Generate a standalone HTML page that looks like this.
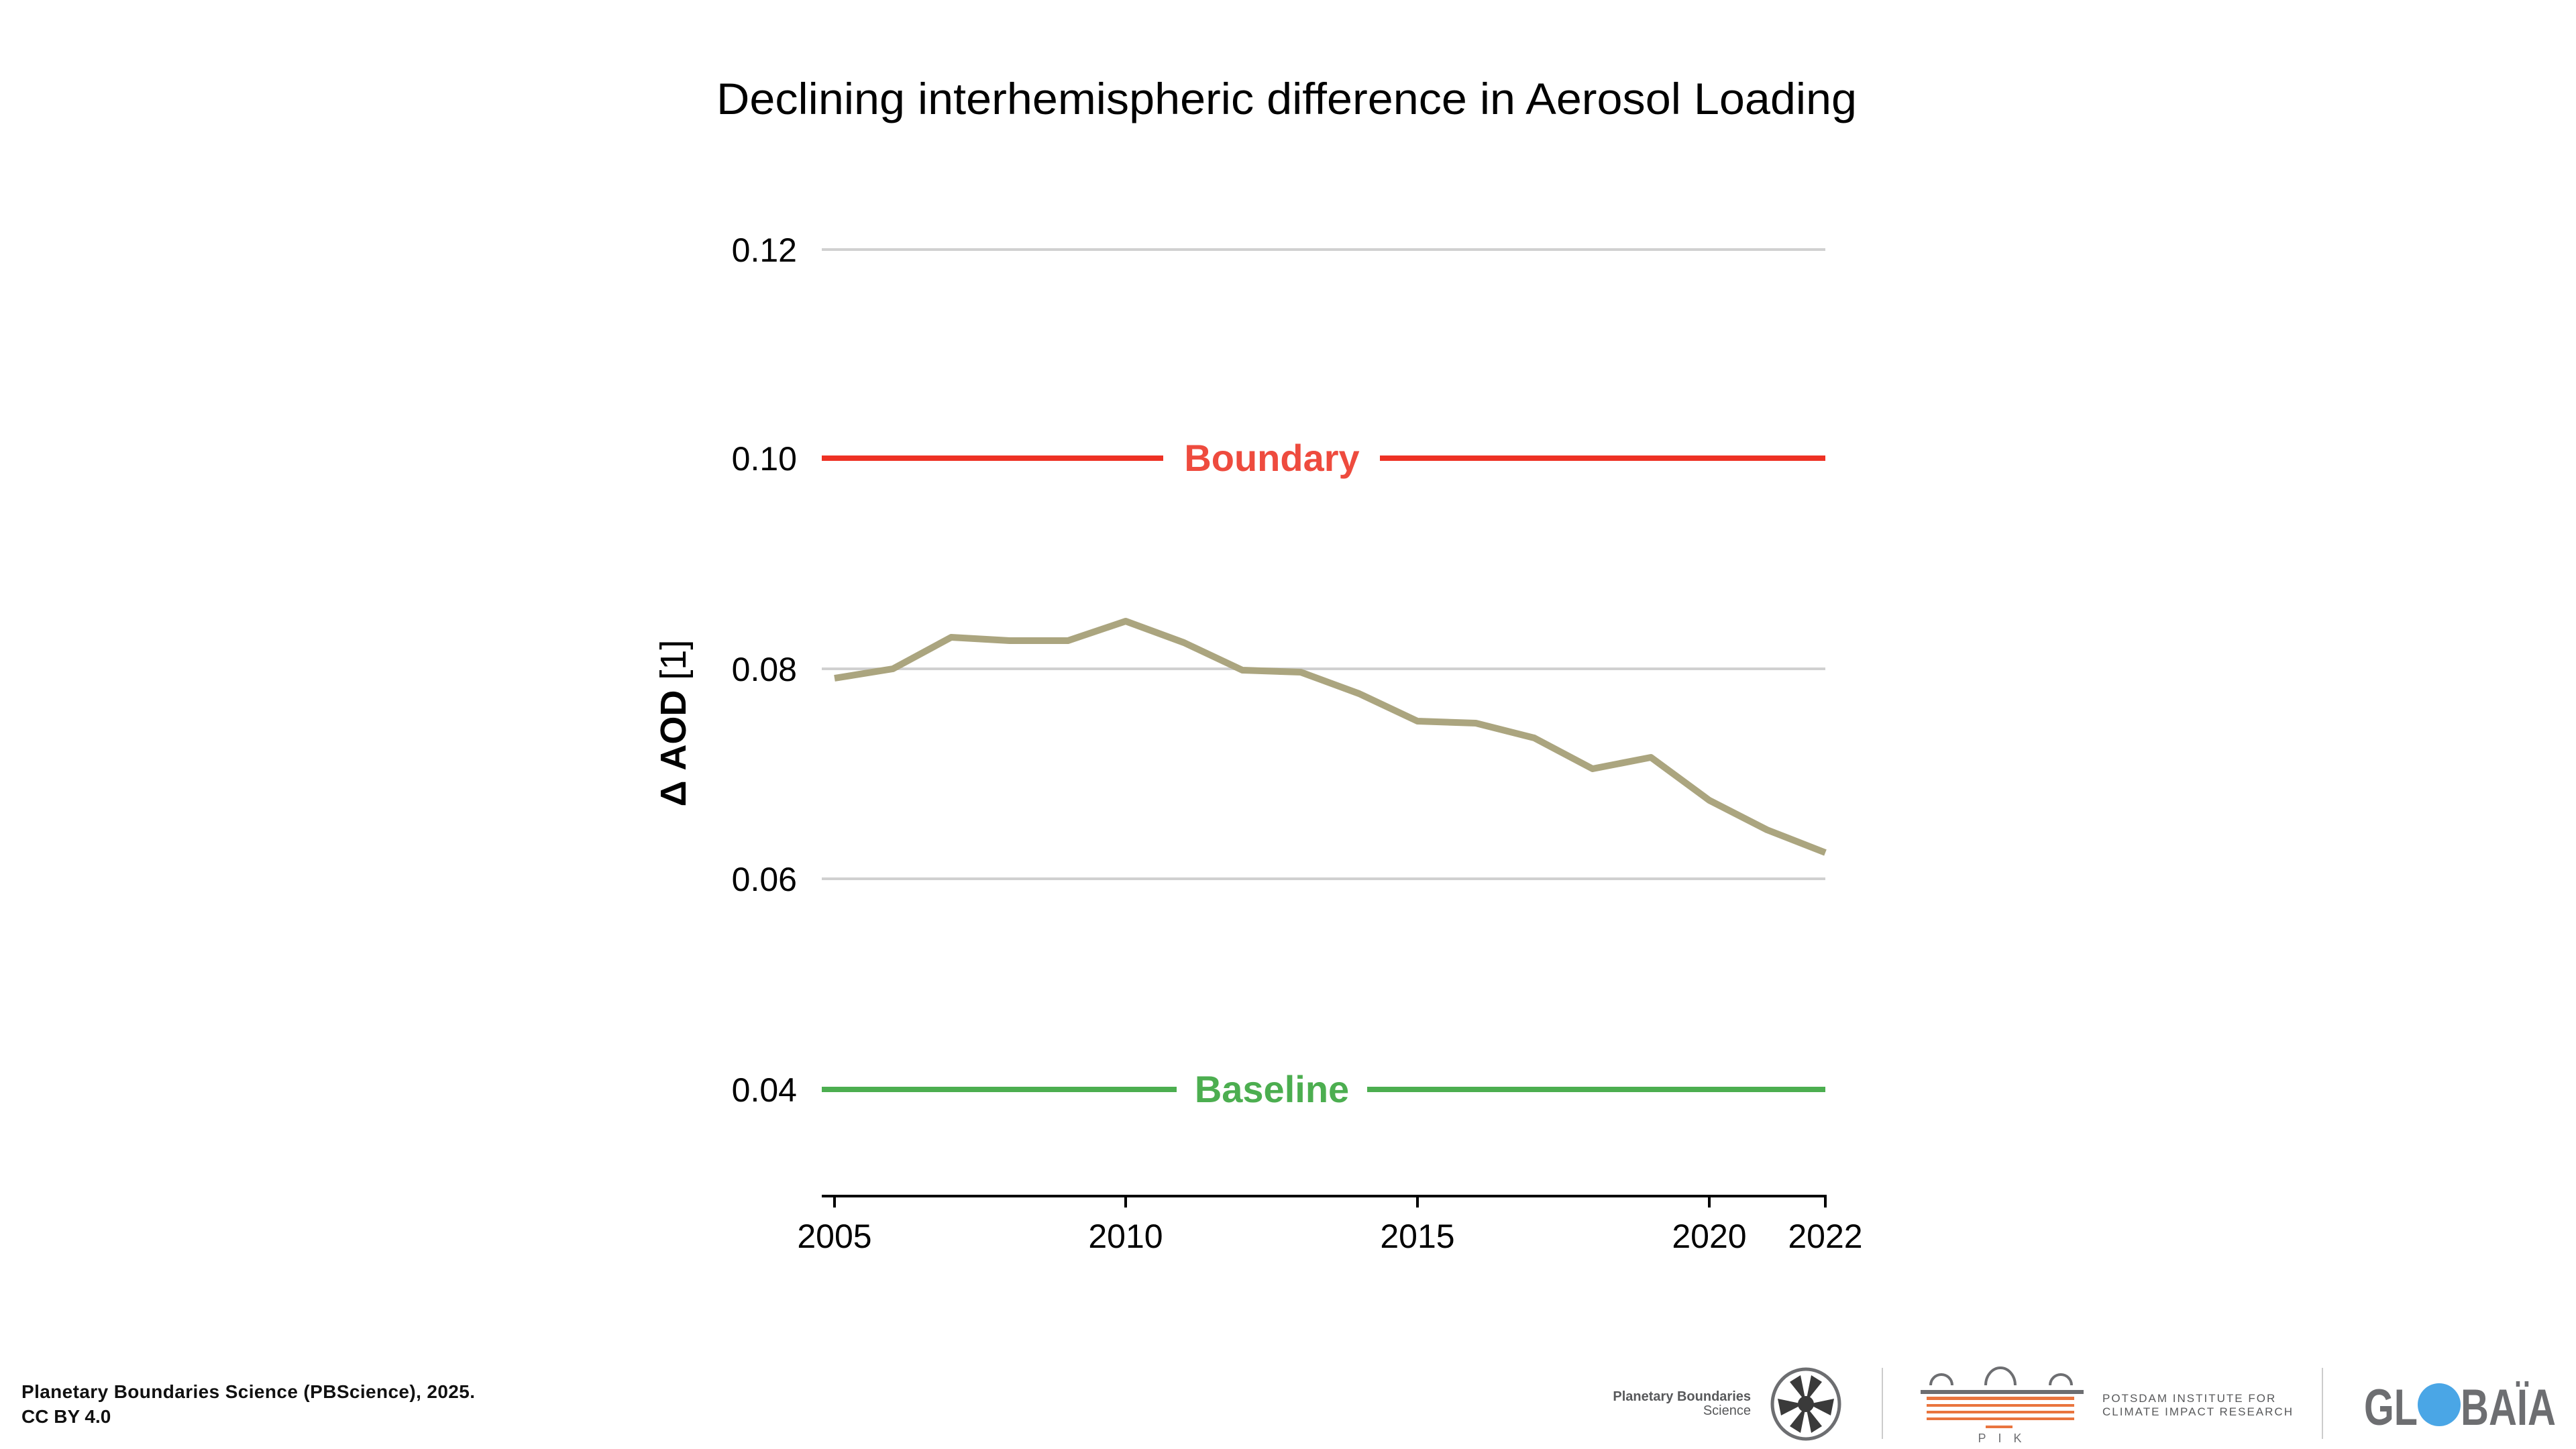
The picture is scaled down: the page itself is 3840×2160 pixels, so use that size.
<!DOCTYPE html>
<html><head><meta charset="utf-8"><style>
html,body{margin:0;padding:0;background:#fff;}
svg{display:block;font-family:"Liberation Sans",sans-serif;}
</style></head><body>
<svg width="3840" height="2160" viewBox="0 0 3840 2160" xmlns="http://www.w3.org/2000/svg">
<text x="1918" y="170" font-size="66" text-anchor="middle" fill="#000" textLength="1700" lengthAdjust="spacingAndGlyphs">Declining interhemispheric difference in Aerosol Loading</text>
<g stroke="#d0d0d0" stroke-width="4">
<line x1="1225" y1="372" x2="2721" y2="372"/>
<line x1="1225" y1="997" x2="2721" y2="997"/>
<line x1="1225" y1="1310" x2="2721" y2="1310"/>
</g>
<g font-size="50" text-anchor="end" fill="#000">
<text x="1188" y="390">0.12</text>
<text x="1188" y="701">0.10</text>
<text x="1188" y="1015">0.08</text>
<text x="1188" y="1328">0.06</text>
<text x="1188" y="1642">0.04</text>
</g>
<text transform="translate(1022,1078) rotate(-90)" font-size="54" text-anchor="middle"><tspan font-weight="bold">Δ AOD</tspan> [1]</text>
<g stroke="#ee3124" stroke-width="8"><line x1="1225" y1="683" x2="1734" y2="683"/><line x1="2057" y1="683" x2="2721" y2="683"/></g>
<text x="1896" y="702" font-size="56" font-weight="bold" fill="#ee4b3e" text-anchor="middle">Boundary</text>
<g stroke="#4cae50" stroke-width="8"><line x1="1225" y1="1624" x2="1754" y2="1624"/><line x1="2038" y1="1624" x2="2721" y2="1624"/></g>
<text x="1896" y="1643" font-size="56" font-weight="bold" fill="#4cae50" text-anchor="middle">Baseline</text>
<polyline fill="none" stroke="#aba57f" stroke-width="10" stroke-linejoin="round" points="1244,1011 1331,997 1418,950 1505,955 1592,955 1678,926 1765,958 1852,999 1939,1002 2026,1034 2113,1075 2200,1078 2287,1100 2374,1146 2461,1129 2548,1193 2634,1237 2721,1271"/>
<line x1="1225" y1="1783" x2="2723" y2="1783" stroke="#000" stroke-width="4"/>
<g stroke="#000" stroke-width="4">
<line x1="1244" y1="1783" x2="1244" y2="1800"/><line x1="1678" y1="1783" x2="1678" y2="1800"/>
<line x1="2113" y1="1783" x2="2113" y2="1800"/><line x1="2548" y1="1783" x2="2548" y2="1800"/>
<line x1="2721" y1="1783" x2="2721" y2="1800"/>
</g>
<g font-size="50" text-anchor="middle">
<text x="1244" y="1860">2005</text><text x="1678" y="1860">2010</text><text x="2113" y="1860">2015</text><text x="2548" y="1860">2020</text><text x="2721" y="1860">2022</text>
</g>
<text x="32" y="2084" font-size="28" font-weight="bold" fill="#111" textLength="676">Planetary Boundaries Science (PBScience), 2025.</text>
<text x="32" y="2121" font-size="28" font-weight="bold" fill="#111">CC BY 4.0</text>
<text x="2610" y="2088" font-size="20" font-weight="bold" fill="#58595b" text-anchor="end">Planetary Boundaries</text>
<text x="2610" y="2109" font-size="20" fill="#58595b" text-anchor="end">Science</text>
<ellipse cx="2692" cy="2093" rx="50" ry="52" fill="none" stroke="#6d6e71" stroke-width="5"/>
<g fill="#3a3a3a">
<path d="M2684,2050 L2692,2090 L2668,2060Z"/><path d="M2700,2050 L2692,2090 L2716,2060Z"/>
<path d="M2684,2136 L2692,2096 L2668,2126Z"/><path d="M2700,2136 L2692,2096 L2716,2126Z"/>
<path d="M2650,2085 L2688,2093 L2655,2110Z"/><path d="M2734,2085 L2696,2093 L2729,2110Z"/>
<circle cx="2692" cy="2093" r="12"/>
</g>
<line x1="2806" y1="2039" x2="2806" y2="2145" stroke="#ccc" stroke-width="2"/>
<line x1="3462" y1="2039" x2="3462" y2="2145" stroke="#ccc" stroke-width="2"/>
<g fill="none" stroke="#6d6e71" stroke-width="4">
<path d="M2878,2065 a16,16 0 0 1 32,0"/><path d="M2960,2065 a22,26 0 0 1 44,0"/><path d="M3056,2065 a16,16 0 0 1 32,0"/>
</g>
<rect x="2863" y="2072" width="243" height="6" fill="#6d6e71"/>
<g fill="#e9753e">
<rect x="2872" y="2082" width="220" height="5"/>
<rect x="2872" y="2093" width="220" height="4"/>
<rect x="2872" y="2103" width="220" height="4"/>
<rect x="2872" y="2113" width="220" height="4"/>
<rect x="2960" y="2125" width="40" height="4"/>
</g>
<text x="2990" y="2150" font-size="18" fill="#6d6e71" text-anchor="middle" letter-spacing="18">PIK</text>
<text x="3134" y="2090" font-size="17" fill="#58595b" letter-spacing="2">POTSDAM INSTITUTE FOR</text>
<text x="3134" y="2110" font-size="17" fill="#58595b" letter-spacing="2">CLIMATE IMPACT RESEARCH</text>
<text x="3524" y="2124" font-size="76" font-weight="bold" fill="#6d6e71" textLength="80" lengthAdjust="spacingAndGlyphs">GL</text>
<circle cx="3636" cy="2094" r="32" fill="#4aa6e6"/>
<text x="3668" y="2124" font-size="76" font-weight="bold" fill="#6d6e71" textLength="142" lengthAdjust="spacingAndGlyphs">BAÏA</text>
</svg>
</body></html>
